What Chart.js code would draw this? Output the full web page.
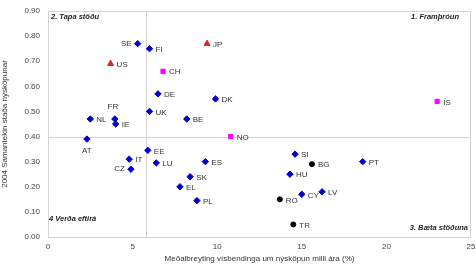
<!DOCTYPE html>
<html>
<head>
<meta charset="utf-8">
<script src="https://cdn.jsdelivr.net/npm/chart.js@4"></script>
<style>
  html, body { margin: 0; padding: 0; background: #fff; }
  #wrap { width: 476px; height: 265px; }
</style>
</head>
<body>
<div id="wrap"><canvas id="myChart" width="476" height="265"></canvas></div>
<script>
// countries as [code, growth %, 2004 index]
const euCountries = ["SE","FI","DE","DK","UK","NL","FR","IE","BE","AT","EE","IT","CZ","LU","ES","SK","EL","PL","SI","HU","PT","CY","LV"];
const euGrowth =    [5.3, 6.0, 6.5, 9.9, 6.0, 2.5, 3.95, 4.0, 8.2, 2.3, 5.9, 4.8, 4.9, 6.4, 9.3, 8.4, 7.8, 8.8, 14.6, 14.3, 18.6, 15.0, 16.2];
const euIndex =     [0.77, 0.75, 0.57, 0.55, 0.50, 0.47, 0.47, 0.45, 0.47, 0.39, 0.345, 0.31, 0.27, 0.295, 0.30, 0.24, 0.20, 0.145, 0.33, 0.25, 0.30, 0.17, 0.18];

const triCountries = ["US","JP"];
const triGrowth = [3.7, 9.4];
const triIndex = [0.69, 0.77];

const sqCountries = ["CH","NO","IS"];
const sqGrowth = [6.8, 10.8, 23.0];
const sqIndex = [0.66, 0.40, 0.54];

const dotCountries = ["BG","RO","TR"];
const dotGrowth = [15.6, 13.7, 14.5];
const dotIndex = [0.29, 0.15, 0.05];

const xTicks = [0, 5, 10, 15, 20, 25];
const yTicks = [0, 0.1, 0.2, 0.3, 0.4, 0.5, 0.6, 0.7, 0.8, 0.9];
const crossX = 5.8;
const crossY = 0.40;

const quadrantLabels = ["2. Tapa stöðu", "1. Framþróun", "4 Verða eftirá", "3. Bæta stöðuna"];

function toPoints(codes, xs, ys) {
  return codes.map((c, i) => ({ x: xs[i], y: ys[i], label: c }));
}

// where the label sits relative to its marker
const labelPos = { SE: "left", FR: "above", AT: "below", CZ: "left" };

const ctx = document.getElementById("myChart");

const framePlugin = {
  id: "frame",
  beforeDatasetsDraw(chart) {
    const c = chart.ctx;
    const a = chart.chartArea;
    const xs = chart.scales.x;
    const ys = chart.scales.y;
    c.save();
    c.strokeStyle = "#d4d4d4";
    c.lineWidth = 1;
    c.strokeRect(a.left + 0.5, a.top + 0.5, a.right - a.left - 1, a.bottom - a.top);
    const vx = Math.round(xs.getPixelForValue(crossX)) + 0.5;
    const hy = Math.round(ys.getPixelForValue(crossY)) + 0.5;
    c.beginPath();
    c.moveTo(vx, a.top);
    c.lineTo(vx, a.bottom);
    c.moveTo(a.left, hy);
    c.lineTo(a.right, hy);
    c.stroke();

    c.fillStyle = "#222";
    c.font = "italic bold 7.5px 'Liberation Sans', Arial, sans-serif";
    c.textBaseline = "middle";
    c.textAlign = "left";
    c.fillText(quadrantLabels[0], a.left + 3, a.top + 6);
    c.fillText(quadrantLabels[2], a.left + 1, a.bottom - 18);
    c.textAlign = "right";
    c.fillText(quadrantLabels[1], a.right - 12, a.top + 6);
    c.fillText(quadrantLabels[3], a.right - 3, a.bottom - 9);
    c.restore();
  },
  afterDatasetsDraw(chart) {
    const c = chart.ctx;
    c.save();
    c.fillStyle = "#333";
    c.font = "8px 'Liberation Sans', Arial, sans-serif";
    c.textBaseline = "middle";
    chart.data.datasets.forEach((ds, di) => {
      const meta = chart.getDatasetMeta(di);
      meta.data.forEach((el, i) => {
        const lab = ds.data[i].label;
        const pos = labelPos[lab] || "right";
        if (pos === "left") {
          c.textAlign = "right";
          c.fillText(lab, el.x - 6, el.y);
        } else if (pos === "above") {
          c.textAlign = "center";
          c.fillText(lab, el.x - 2, el.y - 12);
        } else if (pos === "below") {
          c.textAlign = "center";
          c.fillText(lab, el.x, el.y + 12);
        } else {
          c.textAlign = "left";
          c.fillText(lab, el.x + 6, el.y + 1);
        }
      });
    });
    c.restore();
  }
};

new Chart(ctx, {
  type: "scatter",
  data: {
    datasets: [
      {
        data: toPoints(euCountries, euGrowth, euIndex),
        pointStyle: "rectRot",
        pointRadius: 3.2,
        backgroundColor: "#0000cc",
        borderColor: "#0000cc",
        borderWidth: 1
      },
      {
        data: toPoints(triCountries, triGrowth, triIndex),
        pointStyle: "triangle",
        pointRadius: 3.5,
        backgroundColor: "#e0202a",
        borderColor: "#e0202a",
        borderWidth: 1
      },
      {
        data: toPoints(sqCountries, sqGrowth, sqIndex),
        pointStyle: "rect",
        pointRadius: 3,
        backgroundColor: "#ff00ff",
        borderColor: "#ff00ff",
        borderWidth: 1
      },
      {
        data: toPoints(dotCountries, dotGrowth, dotIndex),
        pointStyle: "circle",
        pointRadius: 2.5,
        backgroundColor: "#000",
        borderColor: "#000",
        borderWidth: 1
      }
    ]
  },
  options: {
    responsive: false,
    animation: false,
    layout: { padding: { top: 11, right: 4, left: 0, bottom: 0 } },
    plugins: {
      legend: { display: false },
      tooltip: { enabled: false }
    },
    scales: {
      x: {
        type: "linear",
        min: 0,
        max: 25,
        afterBuildTicks: (s) => { s.ticks = xTicks.map((v) => ({ value: v })); },
        grid: { display: false, drawTicks: false },
        border: { display: false },
        ticks: {
          color: "#444",
          font: { size: 8, family: "'Liberation Sans', Arial, sans-serif" },
          padding: 5
        },
        title: {
          display: true,
          text: "Meðalbreyting vísbendinga um nýsköpun milli ára (%)",
          color: "#333",
          font: { size: 8, family: "'Liberation Sans', Arial, sans-serif" },
          padding: { top: 0, bottom: 1 }
        },
        afterFit: (s) => { s.height = 28; s.paddingLeft = 0; s.paddingRight = 0; }
      },
      y: {
        type: "linear",
        min: 0,
        max: 0.9,
        afterBuildTicks: (s) => { s.ticks = yTicks.map((v) => ({ value: v })); },
        grid: { display: false, drawTicks: false },
        border: { display: false },
        ticks: {
          color: "#444",
          font: { size: 8, family: "'Liberation Sans', Arial, sans-serif" },
          padding: 8,
          callback: (v) => Number(v).toFixed(2)
        },
        title: {
          display: true,
          text: "2004 Samantekin staða nýsköpunar",
          color: "#333",
          font: { size: 8, family: "'Liberation Sans', Arial, sans-serif" },
          padding: { top: 0, bottom: 2 }
        },
        afterFit: (s) => { s.width = 48; s.paddingTop = 0; s.paddingBottom = 0; }
      }
    }
  },
  plugins: [framePlugin]
});
</script>
</body>
</html>
